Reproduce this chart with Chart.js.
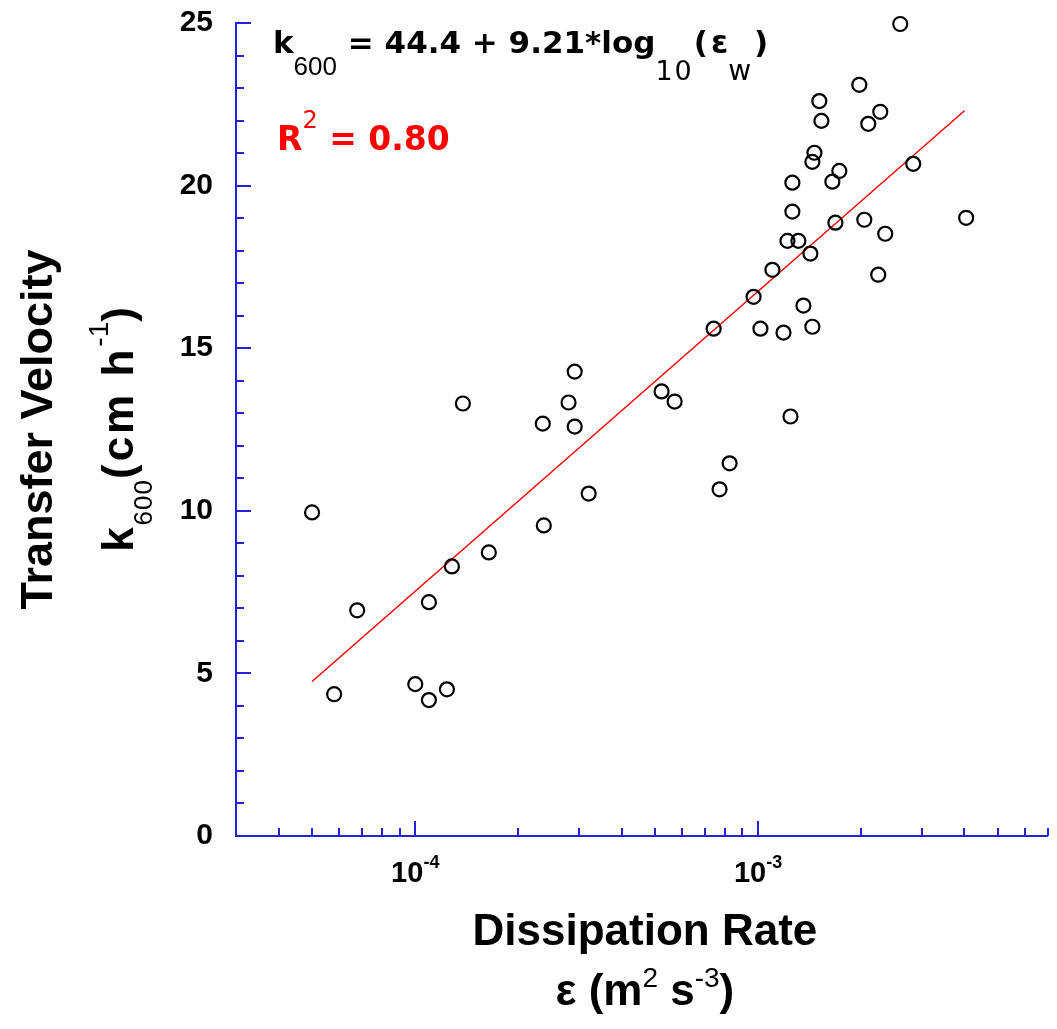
<!DOCTYPE html>
<html>
<head>
<meta charset="utf-8">
<script src="https://cdn.jsdelivr.net/npm/chart.js@4.4.1/dist/chart.umd.min.js"></script>
<style>
  html, body { margin: 0; padding: 0; background: #ffffff; }
  #wrap { width: 1057px; height: 1029px; }
</style>
</head>
<body>
<div id="wrap"><canvas id="chart" width="1057" height="1029"></canvas></div>
<script>
// dissipation rate (m2 s-3) and transfer velocity k600 (cm h-1)
const dissipation = [
  5.0e-5, 5.8e-5, 6.77e-5, 1.0e-4, 1.096e-4, 1.096e-4, 1.237e-4, 1.279e-4, 1.377e-4, 1.639e-4,
  2.355e-4, 2.371e-4, 2.80e-4, 2.918e-4, 2.918e-4, 3.205e-4, 5.23e-4, 5.71e-4, 7.42e-4, 7.72e-4,
  8.26e-4, 9.70e-4, 1.016e-3, 1.101e-3, 1.186e-3, 1.243e-3, 1.218e-3, 1.311e-3, 1.259e-3, 1.259e-3,
  1.356e-3, 1.421e-3, 1.440e-3, 1.440e-3, 1.460e-3, 1.509e-3, 1.530e-3, 1.647e-3, 1.681e-3, 1.726e-3,
  1.974e-3, 2.041e-3, 2.096e-3, 2.241e-3, 2.272e-3, 2.349e-3, 2.598e-3, 2.835e-3, 4.045e-3
];
const k600 = [
  9.95, 4.36, 6.94, 4.67, 4.18, 7.19, 4.51, 8.29, 13.30, 8.72,
  12.68, 9.55, 13.33, 14.28, 12.59, 10.53, 13.67, 13.36, 15.60, 10.66,
  11.46, 16.58, 15.60, 17.41, 15.48, 12.90, 18.30, 18.30, 19.20, 20.09,
  16.31, 17.91, 15.66, 20.73, 21.01, 22.60, 21.99, 20.12, 18.86, 20.45,
  23.10, 18.95, 21.90, 17.26, 22.27, 18.52, 24.97, 20.67, 19.01
];

// end points of the red regression line
const fitX = [5.0e-5, 4.0e-3];
const fitY = [4.75, 22.3];

// axes
const xMin = 3e-5, xMax = 7e-3;
const xTicks = [4e-5, 5e-5, 6e-5, 7e-5, 8e-5, 9e-5, 1e-4,
  2e-4, 3e-4, 4e-4, 5e-4, 6e-4, 7e-4, 8e-4, 9e-4, 1e-3,
  2e-3, 3e-3, 4e-3, 5e-3, 6e-3, 7e-3];
const xMajor = [1e-4, 1e-3];
const xMajorLabels = [["10", "-4"], ["10", "-3"]];
const yMin = 0, yMax = 25;
const yLabels = [0, 5, 10, 15, 20, 25];

const axisBlue = "#2323d6";
const FONT = '"Liberation Sans", Arial, sans-serif';
const WIDE = '"DejaVu Sans", sans-serif';

// draws a run of text pieces: [text, font, dy, extra spacing per char]
function pieceWidth(ctx, p) {
  ctx.font = p[1];
  return ctx.measureText(p[0]).width + (p[3] || 0) * p[0].length;
}
function drawRich(ctx, parts, x, y, align) {
  let w = 0;
  parts.forEach(p => { w += pieceWidth(ctx, p); });
  let cx = align === "center" ? x - w / 2 : x;
  parts.forEach(p => {
    ctx.font = p[1];
    const ls = p[3] || 0;
    if (!ls) {
      ctx.fillText(p[0], cx, y + (p[2] || 0));
      cx += ctx.measureText(p[0]).width;
      return;
    }
    for (const ch of p[0]) {
      ctx.fillText(ch, cx, y + (p[2] || 0));
      cx += ctx.measureText(ch).width + ls;
    }
  });
}

const decorPlugin = {
  id: "decor",
  afterDraw(chart) {
    const ctx = chart.ctx;
    const xs = chart.scales.x, ys = chart.scales.y;
    const area = chart.chartArea;
    ctx.save();

    // inward tick marks
    ctx.strokeStyle = axisBlue;
    ctx.lineWidth = 2;
    ctx.beginPath();
    xs.ticks.forEach(t => {
      const px = Math.round(xs.getPixelForValue(t.value));
      const len = xMajor.includes(t.value) ? 15 : 8;
      ctx.moveTo(px, area.bottom);
      ctx.lineTo(px, area.bottom - len);
    });
    ys.ticks.forEach(t => {
      const py = Math.round(ys.getPixelForValue(t.value));
      const len = t.value % 5 === 0 ? 15 : 8;
      ctx.moveTo(area.left, py);
      ctx.lineTo(area.left + len, py);
    });
    ctx.stroke();

    ctx.fillStyle = "#000";
    ctx.textBaseline = "alphabetic";
    ctx.textAlign = "left";

    // x tick labels with exponents
    xMajor.forEach((v, i) => {
      const px = xs.getPixelForValue(v);
      drawRich(ctx, [
        [xMajorLabels[i][0], "bold 29px " + FONT, 0],
        [xMajorLabels[i][1], "bold 18px " + FONT, -14]
      ], px, 882, "center");
    });

    // axis titles
    const midX = (area.left + area.right) / 2;
    const midY = (area.top + area.bottom) / 2;
    drawRich(ctx, [["Dissipation Rate", "bold 44px " + FONT, 0]], midX + 3, 945, "center");
    drawRich(ctx, [
      ["\u03b5 (m", "bold 44px " + FONT, 0],
      ["2", "28px " + FONT, -18],
      [" s", "bold 44px " + FONT, 0],
      ["-3", "28px " + FONT, -18],
      [")", "bold 44px " + FONT, 0]
    ], midX + 3, 1005, "center");

    ctx.save();
    ctx.translate(52, midY);
    ctx.rotate(-Math.PI / 2);
    drawRich(ctx, [["Transfer Velocity", "bold 45px " + FONT, 0]], 0, 0, "center");
    ctx.restore();

    ctx.save();
    ctx.translate(133, midY);
    ctx.rotate(-Math.PI / 2);
    drawRich(ctx, [
      ["k", "bold 44px " + FONT, 0, 2],
      ["600", "26px " + FONT, 19, 1],
      ["(cm h", "bold 44px " + FONT, 0, 3],
      ["-1", "28px " + FONT, -25],
      [")", "bold 44px " + FONT, 0]
    ], 0, 0, "center");
    ctx.restore();

    // regression annotation
    drawRich(ctx, [
      ["k", "bold 31px " + WIDE, 0],
      ["600", "26px " + FONT, 22],
      [" = 44.4 + 9.21*log", "bold 31px " + WIDE, 0],
      ["10", "27px " + WIDE, 27, 2],
      ["(", "bold 31px " + WIDE, 0, 3],
      ["\u03b5", "bold 31px " + WIDE, 0],
      ["w", "28px " + WIDE, 27, 3],
      [")", "bold 31px " + WIDE, 0]
    ], 273, 53, "left");

    ctx.fillStyle = "#ff0000";
    drawRich(ctx, [
      ["R", "bold 33px " + WIDE, 0],
      ["2", "24px " + WIDE, -22],
      [" = 0.80", "bold 33px " + WIDE, 0]
    ], 277, 150, "left");

    ctx.restore();
  }
};

const points = dissipation.map((d, i) => ({ x: d, y: k600[i] }));
const fitLine = fitX.map((d, i) => ({ x: d, y: fitY[i] }));

new Chart(document.getElementById("chart"), {
  type: "scatter",
  data: {
    datasets: [{
      label: "k600",
      data: points,
      pointRadius: 7,
      pointBorderWidth: 2.2,
      borderColor: "#000",
      backgroundColor: "rgba(0,0,0,0)",
      clip: false
    }, {
      type: "line",
      label: "fit",
      data: fitLine,
      borderColor: "#ff0000",
      borderWidth: 1.5,
      pointRadius: 0,
      fill: false
    }]
  },
  options: {
    responsive: false,
    animation: false,
    devicePixelRatio: 1,
    events: [],
    layout: { padding: { top: 23, right: 8, left: 0, bottom: 0 } },
    plugins: {
      legend: { display: false },
      tooltip: { enabled: false },
      title: { display: false }
    },
    scales: {
      x: {
        type: "logarithmic",
        min: xMin,
        max: xMax,
        afterBuildTicks: scale => { scale.ticks = xTicks.map(v => ({ value: v })); },
        afterFit: scale => { scale.height = 193; scale.paddingLeft = 0; scale.paddingRight = 0; },
        ticks: { display: false },
        grid: { display: false, drawTicks: false },
        border: { display: true, color: axisBlue, width: 2 }
      },
      y: {
        min: yMin,
        max: yMax,
        afterFit: scale => { scale.width = 236; scale.paddingTop = 0; scale.paddingBottom = 0; },
        ticks: {
          stepSize: 1,
          autoSkip: false,
          padding: 23,
          color: "#000",
          font: { family: "Liberation Sans", size: 30, weight: "bold" },
          callback: v => (yLabels.includes(v) ? v : "")
        },
        grid: { display: false, drawTicks: false },
        border: { display: true, color: axisBlue, width: 2 }
      }
    }
  },
  plugins: [decorPlugin]
});
</script>
</body>
</html>
